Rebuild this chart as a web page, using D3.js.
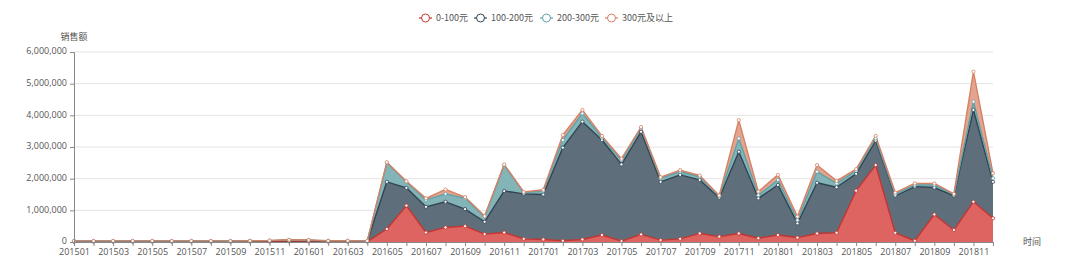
<!DOCTYPE html>
<html>
<head>
<meta charset="utf-8">
<script src="https://cdn.jsdelivr.net/npm/d3@7"></script>
<style>
  body { margin: 0; background: #fff; }
  text { font-family: "Noto Sans CJK SC", "Noto Sans", sans-serif; }
  .tick text { font-family: "Open Sans", "Noto Sans", sans-serif; }
</style>
</head>
<body>
<div id="chart"></div>
<script>
// months 201501 .. 201812
const months = [];
for (let y = 2015; y <= 2018; y++) {
    for (let m = 1; m <= 12; m++) months.push(y + (m < 10 ? "0" : "") + m);
}

const seriesNames = ["0-100元", "100-200元", "200-300元", "300元及以上"];

// sales per price band (yuan)
const band0_100 = [
    10000, 10000, 10000, 10000, 10000, 10000, 10000, 10000, 10000, 10000, 12000, 15000,
    12000, 10000, 10000, 10000, 410000, 1150000, 300000, 460000, 500000, 250000, 300000, 100000,
    80000, 40000, 80000, 220000, 30000, 240000, 60000, 100000, 270000, 170000, 270000, 120000,
    220000, 140000, 270000, 290000, 1620000, 2430000, 290000, 40000, 870000, 380000, 1270000, 750000
];
const band100_200 = [
    15000, 15000, 15000, 15000, 15000, 15000, 15000, 15000, 15000, 20000, 25000, 40000,
    35000, 20000, 20000, 15000, 1490000, 560000, 810000, 810000, 540000, 390000, 1310000, 1420000,
    1420000, 2940000, 3720000, 3000000, 2420000, 3240000, 1840000, 2020000, 1690000, 1230000, 2580000, 1260000,
    1580000, 450000, 1600000, 1440000, 530000, 770000, 1170000, 1710000, 850000, 1080000, 2900000, 1150000
];
const band200_300 = [
    5000, 5000, 5000, 5000, 5000, 5000, 5000, 5000, 5000, 5000, 5000, 8000,
    8000, 5000, 5000, 5000, 600000, 190000, 220000, 250000, 340000, 160000, 820000, 40000,
    110000, 240000, 260000, 80000, 140000, 110000, 110000, 100000, 100000, 50000, 420000, 100000,
    160000, 100000, 350000, 120000, 100000, 70000, 40000, 50000, 80000, 40000, 260000, 110000
];
const band300 = [
    5000, 5000, 5000, 5000, 5000, 5000, 5000, 5000, 5000, 5000, 5000, 8000,
    8000, 5000, 5000, 5000, 20000, 20000, 50000, 140000, 40000, 20000, 20000, 20000,
    40000, 160000, 110000, 50000, 40000, 40000, 40000, 50000, 40000, 20000, 580000, 110000,
    160000, 110000, 210000, 80000, 50000, 80000, 60000, 50000, 50000, 20000, 950000, 160000
];

const yTicks = [0, 1000000, 2000000, 3000000, 4000000, 5000000, 6000000];

const lineColors = ["#c23531", "#2f4554", "#61a0a8", "#d48265"];
const fillColors = ["#dd6461", "#5f6e7b", "#82b4b8", "#e5a48e"];

const W = 1080, H = 264;
const margin = { top: 52, right: 87, bottom: 22, left: 74 };
const width = W - margin.left - margin.right,
      height = H - margin.top - margin.bottom;

const table = months.map(function(m, i) {
    return { month: m, s0: band0_100[i], s1: band100_200[i], s2: band200_300[i], s3: band300[i] };
});

const svg = d3.select("#chart").append("svg")
    .attr("width", W)
    .attr("height", H);

const canvas = svg.append("g")
    .attr("transform", "translate(" + margin.left + "," + margin.top + ")");

const xScale = d3.scalePoint()
    .domain(months)
    .range([0, width]);

const yScale = d3.scaleLinear()
    .domain([0, 6000000])
    .range([height, 0]);

// grid
canvas.append("g")
    .selectAll("line")
    .data(yTicks.slice(1))
    .enter().append("line")
    .attr("x1", 0).attr("x2", width)
    .attr("y1", function(d) { return yScale(d); })
    .attr("y2", function(d) { return yScale(d); })
    .attr("stroke", "#e3e3e3");

const stack = d3.stack().keys(["s0", "s1", "s2", "s3"]);
const layers = stack(table);

const area = d3.area()
    .x(function(d) { return xScale(d.data.month); })
    .y0(function(d) { return yScale(d[0]); })
    .y1(function(d) { return yScale(d[1]); });

const line = d3.line()
    .x(function(d) { return xScale(d.data.month); })
    .y(function(d) { return yScale(d[1]); });

canvas.selectAll(".area")
    .data(layers)
    .enter().append("path")
    .attr("class", "area")
    .attr("d", area)
    .attr("fill", function(d, i) { return fillColors[i]; });

canvas.selectAll(".line")
    .data(layers)
    .enter().append("path")
    .attr("class", "line")
    .attr("d", line)
    .attr("fill", "none")
    .attr("stroke", function(d, i) { return lineColors[i]; })
    .attr("stroke-width", 1.4)
    .attr("stroke-linejoin", "round");

layers.forEach(function(layer, i) {
    canvas.append("g")
        .selectAll("circle")
        .data(layer)
        .enter().append("circle")
        .attr("cx", function(d) { return xScale(d.data.month); })
        .attr("cy", function(d) { return yScale(d[1]); })
        .attr("r", 1.6)
        .attr("fill", "#fff")
        .attr("stroke", lineColors[i])
        .attr("stroke-width", 0.8);
});

// axes
const xAxis = d3.axisBottom(xScale)
    .tickSize(4)
    .tickFormat(function(d, i) { return i % 2 === 0 ? d : ""; });

const gx = canvas.append("g")
    .attr("transform", "translate(0," + height + ")")
    .call(xAxis);
gx.select(".domain").attr("stroke", "#888");
gx.selectAll(".tick line").attr("stroke", "#888");
gx.selectAll(".tick text")
    .attr("y", 7)
    .attr("dy", "0.71em")
    .attr("fill", "#555")
    .style("font-size", "9px");

const yAxis = d3.axisLeft(yScale)
    .tickValues(yTicks)
    .tickSize(4)
    .tickFormat(d3.format(","));

const gy = canvas.append("g").call(yAxis);
gy.select(".domain").attr("stroke", "#888");
gy.selectAll(".tick line").attr("stroke", "#888");
gy.selectAll(".tick text")
    .attr("fill", "#555")
    .attr("dy", "0.2em")
    .style("font-size", "9px");

// axis names
canvas.append("text")
    .attr("x", 0)
    .attr("y", -12)
    .attr("text-anchor", "middle")
    .attr("fill", "#555")
    .style("font-size", "9px")
    .text("销售额");

canvas.append("text")
    .attr("x", width + 39)
    .attr("y", height + 3)
    .attr("text-anchor", "middle")
    .attr("fill", "#555")
    .style("font-size", "9px")
    .text("时间");

// legend
const legendX = [419, 474, 540, 605];
const legend = svg.selectAll(".legend")
    .data(seriesNames)
    .enter().append("g")
    .attr("class", "legend")
    .attr("transform", function(d, i) { return "translate(" + legendX[i] + ",18)"; });

legend.append("line")
    .attr("x1", 0).attr("x2", 13)
    .attr("stroke", function(d, i) { return lineColors[i]; })
    .attr("stroke-width", 1.2);

legend.append("circle")
    .attr("cx", 6.5)
    .attr("r", 4)
    .attr("fill", "#fff")
    .attr("stroke", function(d, i) { return lineColors[i]; })
    .attr("stroke-width", 1);

legend.append("text")
    .attr("x", 17)
    .attr("dy", "0.35em")
    .attr("fill", "#555")
    .style("font-size", "9px")
    .text(function(d) { return d; });
</script>
</body>
</html>
